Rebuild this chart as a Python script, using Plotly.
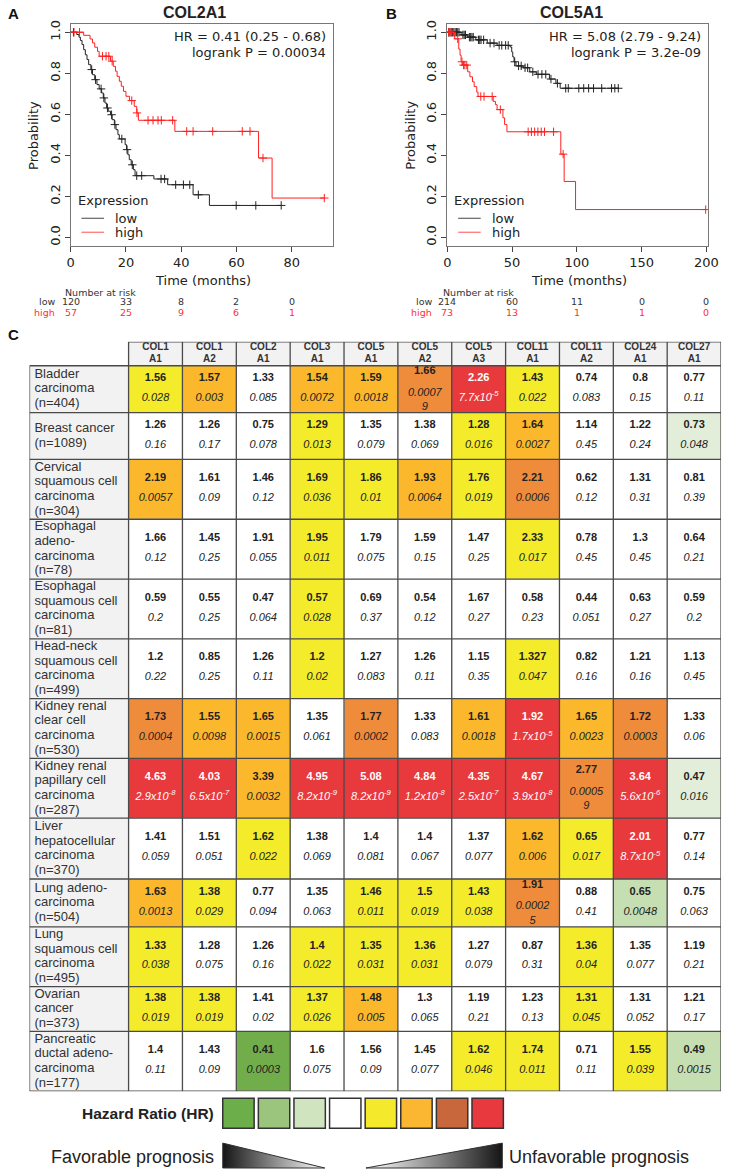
import numpy as np
import plotly.graph_objects as go

W, H = 733, 1170

# ---------------- Kaplan-Meier curves ----------------
# event times (months) and survival just after each step; censor times
a_low_t = [2.2, 3.0, 3.5, 4.1, 4.7, 5.3, 5.9, 6.5, 7.3, 7.9, 8.7, 9.5, 10.3, 11.2, 11.8, 12.4,
           13.0, 13.6, 14.4, 15.0, 15.8, 16.4, 17.1, 17.6, 19.7, 20.2, 20.7, 21.2, 21.9, 22.7,
           23.3, 30.1, 35.1, 44.3, 50.2]
a_low_s = [0.989, 0.976, 0.96, 0.94, 0.915, 0.89, 0.867, 0.842, 0.818, 0.793, 0.769, 0.745,
           0.724, 0.704, 0.68, 0.655, 0.631, 0.615, 0.598, 0.574, 0.55, 0.525, 0.501, 0.48,
           0.452, 0.428, 0.403, 0.379, 0.354, 0.33, 0.301, 0.285, 0.257, 0.208, 0.156]
a_low_cens = [1.0, 7.6, 9.0, 11.0, 12.0, 13.3, 14.8, 16.0, 18.5, 20.4, 22.3, 23.9, 25.7, 32.7,
              34.0, 38.0, 40.8, 43.1, 46.2, 59.9, 67.0, 76.2]

a_high_t = [4.7, 7.0, 7.9, 8.7, 9.7, 10.3, 14.4, 15.4, 16.2, 16.8, 17.6, 18.3, 19.1, 20.0,
            21.3, 23.0, 23.9, 24.5, 37.7, 68.0, 72.9]
a_high_s = [0.985, 0.967, 0.948, 0.927, 0.907, 0.883, 0.859, 0.834, 0.81, 0.785, 0.761, 0.737,
            0.712, 0.688, 0.667, 0.639, 0.607, 0.571, 0.517, 0.387, 0.192]
a_high_cens = [1.2, 3.2, 11.5, 12.8, 13.8, 15.0, 22.1, 24.0, 28.0, 29.8, 31.6, 32.8, 36.9,
               42.0, 44.3, 51.4, 62.1, 64.9, 69.6, 91.8]

b_low_t = [10.6, 15.7, 22.0, 30.8, 38.4, 48.5, 49.7, 50.5, 51.5, 53.0, 58.6, 63.6, 68.7,
           78.8, 83.8, 87.1]
b_low_s = [0.987, 0.976, 0.963, 0.947, 0.936, 0.928, 0.904, 0.88, 0.856, 0.836, 0.827, 0.807,
           0.795, 0.772, 0.751, 0.727]
b_low_cens = [1, 2, 3, 4, 5, 6, 7, 8, 9, 12, 13, 14, 17, 18, 19, 20, 24, 25, 26, 28, 33, 36,
              40, 42, 45, 47, 52, 55, 57, 60, 62, 66, 70, 73, 76, 80, 85, 91.4, 93.4, 101.5,
              105.3, 109.1, 112.9, 119.2, 126.8, 129.3, 132.0]

b_high_t = [5.6, 8.8, 9.8, 10.6, 11.9, 15.7, 17.4, 19.4, 20.7, 22.7, 23.7, 35.4, 37.1, 38.4,
            42.9, 44.2, 46.0, 87.6, 90.2, 99.0]
b_high_s = [0.968, 0.918, 0.888, 0.856, 0.84, 0.807, 0.783, 0.759, 0.735, 0.708, 0.687, 0.663,
            0.647, 0.623, 0.583, 0.55, 0.515, 0.406, 0.273, 0.136]
b_high_cens = [1.0, 2.0, 3.5, 8.0, 11.3, 12.5, 13.5, 15.0, 25.8, 28.3, 34.6, 40.9, 62.4, 64.9,
               67.4, 69.9, 72.5, 75.0, 82.0, 89.4, 199.5]

# number at risk
risk_a_times = [0, 20, 40, 60, 80]
risk_a_low = [120, 33, 8, 2, 0]
risk_a_high = [57, 25, 9, 6, 1]
risk_b_times = [0, 50, 100, 150, 200]
risk_b_low = [214, 60, 11, 0, 0]
risk_b_high = [73, 13, 1, 1, 0]

# ---------------- table C ----------------
genes = ["COL1A1", "COL1A2", "COL2A1", "COL3A1", "COL5A1", "COL5A2", "COL5A3",
         "COL11A1", "COL11A2", "COL24A1", "COL27A1"]
cancers = ["Bladder\ncarcinoma\n(n=404)", "Breast cancer\n(n=1089)",
           "Cervical\nsquamous cell\ncarcinoma\n(n=304)", "Esophagal\nadeno-\ncarcinoma\n(n=78)",
           "Esophagal\nsquamous cell\ncarcinoma\n(n=81)", "Head-neck\nsquamous cell\ncarcinoma\n(n=499)",
           "Kidney renal\nclear cell\ncarcinoma\n(n=530)", "Kidney renal\npapillary cell\ncarcinoma\n(n=287)",
           "Liver\nhepatocellular\ncarcinoma\n(n=370)", "Lung adeno-\ncarcinoma\n(n=504)",
           "Lung\nsquamous cell\ncarcinoma\n(n=495)", "Ovarian\ncancer\n(n=373)",
           "Pancreatic\nductal adeno-\ncarcinoma\n(n=177)"]
hr = [
    [1.56, 1.57, 1.33, 1.54, 1.59, 1.66, 2.26, 1.43, 0.74, 0.8, 0.77],
    [1.26, 1.26, 0.75, 1.29, 1.35, 1.38, 1.28, 1.64, 1.14, 1.22, 0.73],
    [2.19, 1.61, 1.46, 1.69, 1.86, 1.93, 1.76, 2.21, 0.62, 1.31, 0.81],
    [1.66, 1.45, 1.91, 1.95, 1.79, 1.59, 1.47, 2.33, 0.78, 1.3, 0.64],
    [0.59, 0.55, 0.47, 0.57, 0.69, 0.54, 1.67, 0.58, 0.44, 0.63, 0.59],
    [1.2, 0.85, 1.26, 1.2, 1.27, 1.26, 1.15, 1.327, 0.82, 1.21, 1.13],
    [1.73, 1.55, 1.65, 1.35, 1.77, 1.33, 1.61, 1.92, 1.65, 1.72, 1.33],
    [4.63, 4.03, 3.39, 4.95, 5.08, 4.84, 4.35, 4.67, 2.77, 3.64, 0.47],
    [1.41, 1.51, 1.62, 1.38, 1.4, 1.4, 1.37, 1.62, 0.65, 2.01, 0.77],
    [1.63, 1.38, 0.77, 1.35, 1.46, 1.5, 1.43, 1.91, 0.88, 0.65, 0.75],
    [1.33, 1.28, 1.26, 1.4, 1.35, 1.36, 1.27, 0.87, 1.36, 1.35, 1.19],
    [1.38, 1.38, 1.41, 1.37, 1.48, 1.3, 1.19, 1.23, 1.31, 1.31, 1.21],
    [1.4, 1.43, 0.41, 1.6, 1.56, 1.45, 1.62, 1.74, 0.71, 1.55, 0.49],
]
pvals = [
    ["0.028", "0.003", "0.085", "0.0072", "0.0018", "0.00079", "7.7x10^-5", "0.022", "0.083", "0.15", "0.11"],
    ["0.16", "0.17", "0.078", "0.013", "0.079", "0.069", "0.016", "0.0027", "0.45", "0.24", "0.048"],
    ["0.0057", "0.09", "0.12", "0.036", "0.01", "0.0064", "0.019", "0.0006", "0.12", "0.31", "0.39"],
    ["0.12", "0.25", "0.055", "0.011", "0.075", "0.15", "0.25", "0.017", "0.45", "0.45", "0.21"],
    ["0.2", "0.25", "0.064", "0.028", "0.37", "0.12", "0.27", "0.23", "0.051", "0.27", "0.2"],
    ["0.22", "0.25", "0.11", "0.02", "0.083", "0.11", "0.35", "0.047", "0.16", "0.16", "0.45"],
    ["0.0004", "0.0098", "0.0015", "0.061", "0.0002", "0.083", "0.0018", "1.7x10^-5", "0.0023", "0.0003", "0.06"],
    ["2.9x10^-8", "6.5x10^-7", "0.0032", "8.2x10^-9", "8.2x10^-9", "1.2x10^-8", "2.5x10^-7", "3.9x10^-8", "0.00059", "5.6x10^-6", "0.016"],
    ["0.059", "0.051", "0.022", "0.069", "0.081", "0.067", "0.077", "0.006", "0.017", "8.7x10^-5", "0.14"],
    ["0.0013", "0.029", "0.094", "0.063", "0.011", "0.019", "0.038", "0.00025", "0.41", "0.0048", "0.063"],
    ["0.038", "0.075", "0.16", "0.022", "0.031", "0.031", "0.079", "0.31", "0.04", "0.077", "0.21"],
    ["0.019", "0.019", "0.02", "0.026", "0.005", "0.065", "0.21", "0.13", "0.045", "0.052", "0.17"],
    ["0.11", "0.09", "0.0003", "0.075", "0.09", "0.077", "0.046", "0.011", "0.11", "0.039", "0.0015"],
]
# colour class per cell: G dark green, g light green, p pale green, w white,
# y yellow, o orange, b dark orange, r red
classes = ["yowoobrywww", "wwwywwyowwp", "owwyyoybwww", "wwwywwwywww", "wwwywwwwwww",
           "wwwywwwywww", "boowbworobw", "rrorrrrrbrp", "wwywwwwoyrw", "oywwyyybwgw",
           "ywwyyywwyww", "yywyowwwyww", "wwGwwwyywyg"]
class_order = "Ggpwyobr"
class_colors = ["#72AD4C", "#C6DFB2", "#E2EEDA", "#FFFFFF", "#F4EB2B", "#FBB82D", "#EF8C3B", "#E8393D"]
label_gray = "#F2F2F2"
legend_colors = ["#6BAE4A", "#9BC47D", "#CFE4BF", "#FFFFFF", "#F4E92A", "#FBB731", "#C8663C", "#E83A3E"]

fig = go.Figure()


def step_at(t_ev, s_ev, t):
    i = np.searchsorted(t_ev, t, side="right")
    return np.concatenate([[1.0], s_ev])[i]


def km(t_ev, s_ev, cens, color, xa, ya):
    t_ev, s_ev, cens = np.asarray(t_ev), np.asarray(s_ev), np.asarray(cens, dtype=float)
    xs = np.concatenate([[0], t_ev, [cens.max()]])
    ys = np.concatenate([[1], s_ev, [s_ev[-1]]])
    fig.add_trace(go.Scatter(x=xs, y=ys, mode="lines", line=dict(color=color, width=1, shape="hv"),
                             xaxis=xa, yaxis=ya, hoverinfo="skip"))
    fig.add_trace(go.Scatter(x=cens, y=[step_at(t_ev, s_ev, c) for c in cens], mode="markers",
                             marker=dict(symbol="cross-thin", size=6, line=dict(color=color, width=1)),
                             xaxis=xa, yaxis=ya, hoverinfo="skip"))


km(a_low_t, a_low_s, a_low_cens, "#222222", "x", "y")
km(a_high_t, a_high_s, a_high_cens, "#FF2020", "x", "y")
km(b_low_t, b_low_s, b_low_cens, "#222222", "x2", "y2")
km(b_high_t, b_high_s, b_high_cens, "#FF2020", "x2", "y2")


def note(text, x, y, size=13, family="DejaVu Sans", color="#222", xanchor="center", angle=0):
    fig.add_annotation(text=text, x=x / W, y=1 - y / H, xref="paper", yref="paper", showarrow=False,
                       xanchor=xanchor, yanchor="middle", textangle=angle,
                       font=dict(family=family, size=size, color=color))


# panel decorations
for (letter, lx, title, tx, x0, x1, hrtxt, ptxt, leg_x, xref, rt, rlow, rhigh, nar_x) in [
    ("A", 10, "COL2A1", 194, 68, 335, "HR = 0.41 (0.25 - 0.68)", "logrank P = 0.00034", 73, "x",
     risk_a_times, risk_a_low, risk_a_high, 98),
    ("B", 395, "COL5A1", 579, 452, 718, "HR = 5.08 (2.79 - 9.24)", "logrank P = 3.2e-09", 457, "x2",
     risk_b_times, risk_b_low, risk_b_high, 484),
]:
    note("<b>%s</b>" % letter, lx, 10, size=15, family="Liberation Sans", color="#111")
    note("<b>%s</b>" % title, tx, 9, size=16, family="Liberation Sans", color="#222")
    note(hrtxt, x1 - 5, 33, xanchor="right")
    note(ptxt, x1 - 5, 49, xanchor="right")
    note("Probability", x0 - 38, 132, angle=-90)
    note("Time (months)", (x0 + x1) / 2 + 1, 277)
    note("Expression", leg_x, 197, xanchor="left")
    for lbl, yy, col in [("low", 215, "#444"), ("high", 229, "#FF5050")]:
        fig.add_shape(type="line", xref="paper", yref="paper", x0=(leg_x + 6) / W, x1=(leg_x + 29) / W,
                      y0=1 - yy / H, y1=1 - yy / H, line=dict(color=col, width=1))
        note(lbl, leg_x + 38, yy, xanchor="left")
    note("Number at risk", nar_x, 289, size=9.5, color="#333")
    note("low", x0 - 14, 299, size=9.5, color="#333", xanchor="right")
    note("high", x0 - 14, 310, size=9.5, color="#FF3030", xanchor="right")
    for t, lo, hi in zip(rt, rlow, rhigh):
        for val, yy, col in [(lo, 299, "#333"), (hi, 310, "#FF3030")]:
            fig.add_annotation(text=str(val), x=t, xref=xref, y=1 - yy / H, yref="paper", showarrow=False,
                               yanchor="middle", font=dict(family="DejaVu Sans", size=9.5, color=col))

# ---------------- table ----------------
row_h = [47, 47, 60, 60, 60, 60, 60, 60, 61, 48, 60, 45, 60]
head_h = 24
col_w = 54.9
lab_w = 101 / col_w
tab_top, tab_bot = 339, 339 + head_h + sum(row_h)
y_edges = np.concatenate([[0, head_h], head_h + np.cumsum(row_h)])
x_edges = np.concatenate([[-lab_w], np.arange(len(genes) + 1)])
centers = (y_edges[:-1] + y_edges[1:]) / 2

codes = {c: i for i, c in enumerate(class_order)}
z = [[None] + [len(class_order)] * len(genes)]
for cl in classes:
    z.append([len(class_order)] + [codes[c] for c in cl])
palette = class_colors + [label_gray]
n = len(palette)
cscale = []
for i, c in enumerate(palette):
    cscale += [[i / n, c], [(i + 1) / n, c]]
fig.add_trace(go.Heatmap(z=z, x=x_edges, y=y_edges, colorscale=cscale, zmin=-0.5, zmax=n - 0.5,
                         showscale=False, hoverinfo="skip", xaxis="x3", yaxis="y3"))

# grid lines
line_style = dict(color="#4A4A4A", width=1.3)
for k, ye in enumerate(y_edges):
    fig.add_shape(type="line", xref="x3", yref="y3", x0=0 if k == 0 else -lab_w, x1=len(genes),
                  y0=ye, y1=ye, line=line_style)
for k, xe in enumerate(x_edges):
    fig.add_shape(type="line", xref="x3", yref="y3", x0=xe, x1=xe,
                  y0=head_h if k == 0 else 0, y1=y_edges[-1], line=line_style)

# header text
hx, hy, ht = [], [], []
for j, g in enumerate(genes):
    a, b = g.rsplit("A", 1)
    for txt, off in [(a, -6), ("A" + b, 6)]:
        hx.append(j + 0.5); hy.append(head_h / 2 + off); ht.append("<b>%s</b>" % txt)
fig.add_trace(go.Scatter(x=hx, y=hy, text=ht, mode="text", cliponaxis=False, hoverinfo="skip",
                         textfont=dict(family="Liberation Sans", size=10, color="#333"),
                         xaxis="x3", yaxis="y3"))

# row labels
lx, ly, lt = [], [], []
for i, lab in enumerate(cancers):
    parts = lab.split("\n")
    cy = centers[i + 1]
    for k, p in enumerate(parts):
        lx.append(-lab_w + 5 / col_w); ly.append(cy + (k - (len(parts) - 1) / 2) * 14.7); lt.append(p)
fig.add_trace(go.Scatter(x=lx, y=ly, text=lt, mode="text", textposition="middle right", cliponaxis=False,
                         hoverinfo="skip", textfont=dict(family="Liberation Sans", size=13, color="#333"),
                         xaxis="x3", yaxis="y3"))


def fmt_p(p):
    if "^" in p:
        base, ex = p.split("^")
        return base + "<sup>" + ex + "</sup>"
    if len(p) > 6:
        return p[:6] + "<br>" + p[6:]
    return p


vx, vy, vt, vc = [], [], [], []
px_, py_, pt, pc = [], [], [], []
for i in range(len(cancers)):
    cy = centers[i + 1]
    for j in range(len(genes)):
        col = "#FFFFFF" if classes[i][j] == "r" else "#222222"
        ptxt = fmt_p(pvals[i][j])
        wrapped = "<br>" in ptxt
        vx.append(j + 0.5); vy.append(cy - (18 if wrapped else 11)); vt.append("<b>%s</b>" % hr[i][j]); vc.append(col)
        px_.append(j + 0.5); py_.append(cy + (11 if wrapped else 9)); pt.append("<i>%s</i>" % ptxt); pc.append(col)
fig.add_trace(go.Scatter(x=vx, y=vy, text=vt, mode="text", cliponaxis=False, hoverinfo="skip",
                         textfont=dict(family="Liberation Sans", size=11, color=vc), xaxis="x3", yaxis="y3"))
fig.add_trace(go.Scatter(x=px_, y=py_, text=pt, mode="text", cliponaxis=False, hoverinfo="skip",
                         textfont=dict(family="Liberation Sans", size=11, color=pc), xaxis="x3", yaxis="y3"))

note("<b>C</b>", 10, 332, size=15, family="Liberation Sans", color="#111")

# ---------------- colour legend ----------------
for k, c in enumerate(legend_colors):
    x0 = 223 + k * 36.3
    fig.add_shape(type="rect", xref="x4", yref="y4", x0=x0, x1=x0 + 32, y0=1098, y1=1128,
                  fillcolor=c, line=dict(color="#333", width=1.5))
note("<b>Hazard Ratio (HR)</b>", 216, 1113, size=15.5, family="Liberation Sans", color="#222", xanchor="right")

fig.add_trace(go.Scatter(x=[223, 223, 327, 223], y=[1143, 1168, 1168, 1143], mode="lines", fill="toself",
                         fillgradient=dict(type="horizontal", colorscale=[[0, "#151515"], [1, "#FFFFFF"]]),
                         line=dict(color="#333", width=1), hoverinfo="skip", xaxis="x4", yaxis="y4"))
fig.add_trace(go.Scatter(x=[369, 508, 508, 369], y=[1168, 1168, 1143, 1168], mode="lines", fill="toself",
                         fillgradient=dict(type="horizontal", colorscale=[[0, "#FFFFFF"], [1, "#151515"]]),
                         line=dict(color="#333", width=1), hoverinfo="skip", xaxis="x4", yaxis="y4"))
note("Favorable prognosis", 216, 1157, size=18, family="Liberation Sans", color="#222", xanchor="right")
note("Unfavorable prognosis", 513, 1157, size=18, family="Liberation Sans", color="#222", xanchor="left")

# ---------------- axes ----------------
tick_font = dict(family="DejaVu Sans", size=13, color="#222")


def km_x(x0, x1, xmax, ticks, anchor):
    return dict(domain=[x0 / W, x1 / W], range=[0, xmax], tickvals=ticks, ticks="outside", ticklen=5,
                tickcolor="#444", showline=True, mirror=True, linecolor="#777", linewidth=1,
                showgrid=False, zeroline=False, tickfont=tick_font, anchor=anchor)


def km_y(anchor):
    return dict(domain=[1 - 242.5 / H, 1 - 20.1 / H], range=[-0.04, 1.04],
                tickvals=[0, 0.2, 0.4, 0.6, 0.8, 1.0], ticktext=["0.0", "0.2", "0.4", "0.6", "0.8", "1.0"],
                tickangle=-90, ticks="outside", ticklen=5, tickcolor="#444", showline=True, mirror=True,
                linecolor="#777", linewidth=1, showgrid=False, zeroline=False, tickfont=tick_font,
                anchor=anchor)


fig.update_layout(
    width=W, height=H, margin=dict(l=0, r=0, t=0, b=0),
    paper_bgcolor="white", plot_bgcolor="rgba(0,0,0,0)", showlegend=False,
    xaxis=km_x(68, 335, 94.8, [0, 20, 40, 60, 80], "y"),
    yaxis=km_y("x"),
    xaxis2=km_x(452, 718, 201.5, [0, 50, 100, 150, 200], "y2"),
    yaxis2=km_y("x2"),
    xaxis3=dict(domain=[26 / W, 731 / W], range=[-lab_w, len(genes)], visible=False, anchor="y3"),
    yaxis3=dict(domain=[1 - tab_bot / H, 1 - tab_top / H], range=[y_edges[-1], 0], visible=False, anchor="x3"),
    xaxis4=dict(domain=[0, 1], range=[0, W], visible=False, anchor="y4"),
    yaxis4=dict(domain=[0, 1 - 1092 / H], range=[H, 1092], visible=False, anchor="x4"),
)

# the page's default body margin would push the figure 8 px down and right
fig.write_html("out.html", config={"displayModeBar": False},
               post_script="document.body.style.margin='0px';")
